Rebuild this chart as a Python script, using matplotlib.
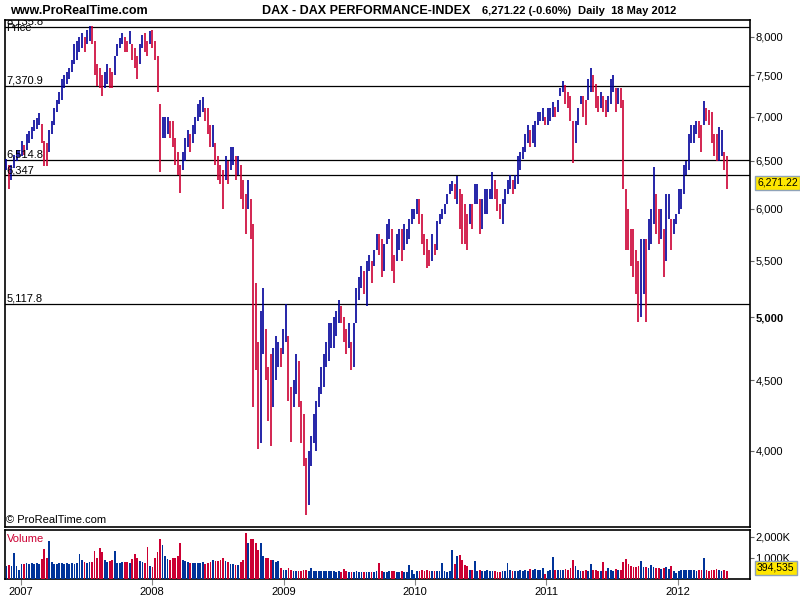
import matplotlib
matplotlib.use('Agg')
import matplotlib.pyplot as plt
from matplotlib.ticker import NullLocator, NullFormatter
import numpy as np
import pandas as pd

plt.rcParams['font.family'] = ['Liberation Sans', 'DejaVu Sans']

# DAX weekly high / low, one value per week, first week starts Mon 20 Nov 2006
wk_high = [
    6520, 6450, 6460, 6560, 6620, 6620,            # 2006 Nov-Dec
    6720, 6680, 6800, 6830, 6880,                  # 2007 Jan
    6960, 6990, 7040, 6920,                        # Feb
    6720, 6700, 6850, 6950,                        # Mar
    7100, 7200, 7300, 7450, 7500,                  # Apr
    7550, 7600, 7700, 7900,                        # May
    7950, 8000, 8050, 8000,                        # Jun
    8100, 8150, 8150, 7950, 7650,                  # Jul
    7600, 7500, 7550, 7650,                        # Aug
    7600, 7550, 7750, 7900,                        # Sep
    7980, 8050, 8000, 7950, 8080,                  # Oct
    7900, 7850, 7750, 7900,                        # Nov
    8020, 8050, 7950, 8080, 8100,                  # Dec
    7950, 7750, 7150, 7000,                        # 2008 Jan
    7000, 7000, 6950, 6950,                        # Feb
    6750, 6600, 6450, 6600, 6750,                  # Mar
    6850, 6800, 6900, 7000,                        # Apr
    7150, 7200, 7230, 7100,                        # May
    7100, 6900, 6900, 6700, 6550,                  # Jun
    6450, 6400, 6550, 6500,                        # Jul
    6650, 6650, 6550, 6550,                        # Aug
    6450, 6300, 6150, 6300, 6100,                  # Sep
    5850, 5300, 4800, 5050,                        # Oct
    5250, 4900, 4600, 4700,                        # Nov
    4750, 4850, 4800, 4750, 4900,                  # Dec
    5110, 4850, 4450, 4500,                        # 2009 Jan
    4700, 4650, 4350, 4250,                        # Feb
    3950, 4000, 4100, 4250, 4350,                  # Mar
    4450, 4600, 4700, 4800,                        # Apr
    4950, 4950, 5000, 5050,                        # May
    5150, 5100, 5000, 4900, 4950,                  # Jun
    4800, 4950, 5250, 5350,                        # Jul
    5450, 5400, 5500, 5550, 5500,                  # Aug
    5600, 5750, 5750, 5700,                        # Sep
    5650, 5850, 5900, 5800,                        # Oct
    5550, 5750, 5800, 5800, 5850,                  # Nov
    5800, 5900, 6000, 6000,                        # Dec
    6100, 6100, 5950, 5750,                        # 2010 Jan
    5700, 5600, 5750, 5650,                        # Feb
    5880, 5950, 6000, 6050, 6150,                  # Mar
    6250, 6280, 6250, 6340,                        # Apr
    6200, 6150, 6050, 5950, 6050,                  # May
    6050, 6250, 6250, 6100,                        # Jun
    6100, 6200, 6200, 6200,                        # Jul
    6380, 6300, 6200, 6050, 6100,                  # Aug
    6200, 6300, 6350, 6300,                        # Sep
    6350, 6550, 6600, 6650,                        # Oct
    6800, 6900, 6850, 6900, 6950,                  # Nov
    7050, 7060, 7100, 7000,                        # Dec
    7100, 7100, 7180, 7120, 7200,                  # 2011 Jan
    7350, 7430, 7380, 7300,                        # Feb
    7250, 6950, 6950, 7100,                        # Mar
    7250, 7250, 7200, 7450,                        # Apr
    7600, 7500, 7400, 7250, 7300,                  # May
    7250, 7200, 7250, 7450,                        # Jun
    7500, 7350, 7350, 7350,                        # Jul
    7200, 6200, 6000, 5800, 5800,                  # Aug
    5600, 5500, 5700, 5700,                        # Sep
    5700, 5900, 6000, 6430, 6150,                  # Oct
    6000, 6000, 5800, 6150,                        # Nov
    6150, 5900, 5900, 5950,                        # Dec
    6200, 6200, 6450, 6500, 6800,                  # 2012 Jan
    6900, 6900, 6950, 6950,                        # Feb
    6900, 7190, 7100, 7080,                        # Mar
    7050, 6800, 6800, 6880, 6850,                  # Apr
    6600, 6550,                                    # May
]
wk_low = [
    6400, 6200, 6300, 6420, 6500, 6540,
    6550, 6560, 6620, 6700, 6740,
    6830, 6860, 6900, 6700,
    6440, 6440, 6600, 6800,
    6900, 7050, 7150, 7200, 7350,
    7400, 7450, 7550, 7650,
    7700, 7800, 7850, 7800,
    7900, 7950, 7900, 7500, 7370,
    7350, 7250, 7350, 7400,
    7350, 7350, 7500, 7750,
    7850, 7900, 7800, 7800, 7900,
    7700, 7600, 7450, 7650,
    7850, 7800, 7750, 7900, 7850,
    7700, 7300, 6380, 6750,
    6750, 6800, 6750, 6650,
    6450, 6350, 6160, 6400, 6500,
    6650, 6600, 6700, 6800,
    6950, 7000, 7050, 6950,
    6800, 6650, 6650, 6450, 6300,
    6250, 6000, 6300, 6250,
    6400, 6450, 6300, 6350,
    6100, 6000, 5750, 6000, 5700,
    4300, 4580, 4010, 4050,
    4700, 4500, 4200, 4030,
    4300, 4500, 4600, 4600, 4700,
    4800, 4350, 4060, 4300,
    4400, 4300, 4050, 3900,
    3590, 3650, 3900, 4050, 4000,
    4300, 4400, 4450, 4600,
    4650, 4750, 4750, 4850,
    4950, 4950, 4800, 4700, 4750,
    4580, 4600, 4950, 5150,
    5250, 5200, 5100, 5400, 5300,
    5450, 5600, 5550, 5350,
    5400, 5650, 5700, 5400,
    5300, 5500, 5600, 5500, 5600,
    5650, 5700, 5850, 5900,
    5950, 5850, 5650, 5550,
    5430, 5450, 5500, 5550,
    5600, 5850, 5900, 5950, 6050,
    6150, 6180, 6100, 6050,
    5800, 5650, 5650, 5600, 5850,
    5800, 6050, 6050, 5750,
    5800, 5950, 5950, 6100,
    6100, 6100, 5980, 5900, 5850,
    6050, 6150, 6200, 6150,
    6200, 6250, 6400, 6520,
    6600, 6700, 6650, 6700, 6650,
    6900, 6950, 6950, 6900,
    6900, 6950, 7000, 7000, 7050,
    7250, 7300, 7150, 7100,
    6950, 6480, 6700, 6900,
    7150, 7000, 6900, 7200,
    7300, 7300, 7100, 7050, 7100,
    7050, 7000, 7050, 7150,
    7300, 7050, 7150, 7100,
    6200, 5600, 5600, 5450, 5350,
    5200, 4960, 5000, 5200,
    4960, 5600, 5650, 5850, 5750,
    5650, 5700, 5350, 5500,
    5900, 5600, 5750, 5850,
    5950, 6000, 6150, 6350, 6400,
    6700, 6700, 6800, 6750,
    6600, 6900, 6950, 6900,
    6700, 6550, 6500, 6500, 6550,
    6400, 6200,
]
# volume in thousands, same weeks
wk_vol = [
    620, 650, 600, 1250, 620, 420,
    700, 720, 760, 700, 740,
    720, 760, 700, 950,
    1450, 1000, 1800, 800,
    700, 720, 760, 740, 700,
    760, 700, 760, 720,
    780, 1200, 900, 820,
    740, 800, 820, 1330, 1000,
    1480, 1300, 900, 820,
    880, 900, 1330, 780,
    760, 800, 820, 820, 780,
    950, 1190, 1000, 880,
    820, 780, 1500, 600, 560,
    1000, 1300, 1900, 1600,
    1100, 950, 900, 1000,
    1000, 1100, 1700, 900, 850,
    800, 760, 780, 760,
    740, 760, 800, 720,
    780, 820, 900, 860, 840,
    900, 1000, 880, 800,
    720, 700, 680, 660,
    800, 900, 2190, 1700, 1900,
    1900, 1730, 1400, 1700,
    1100, 1000, 1000, 900,
    900, 800, 850, 500, 420,
    450, 520, 420, 400,
    380, 400, 380, 420,
    450, 400, 520, 380, 400,
    380, 360, 380, 360,
    380, 360, 400, 340,
    360, 350, 480, 360, 330,
    320, 340, 360, 330,
    340, 320, 330, 320, 340,
    340, 360, 760, 360,
    350, 340, 360, 370,
    380, 330, 350, 360, 320,
    340, 650, 420, 250,
    380, 400, 420, 400,
    420, 380, 360, 380,
    380, 360, 760, 360, 340,
    400, 1380, 700, 1100,
    1140, 900, 650, 600, 450,
    420, 860, 400, 440,
    400, 380, 420, 400,
    380, 360, 340, 320, 360,
    380, 780, 420, 400,
    380, 400, 420, 400,
    420, 400, 480, 440, 460,
    420, 440, 500, 260,
    400, 420, 1050, 450, 420,
    440, 420, 480, 440,
    500, 900, 600, 420,
    400, 380, 420, 360,
    700, 420, 440, 400, 380,
    810, 400, 540, 420,
    400, 460, 420, 440,
    800, 950, 720, 620, 560,
    560, 600, 880, 560,
    560, 500, 670, 580, 520,
    500, 480, 520, 560,
    480, 600, 400, 300,
    380, 420, 440, 420, 440,
    440, 420, 400, 450,
    420, 1000, 420, 400,
    420, 440, 460, 420, 400,
    440, 395,
]

levels = [8135.8, 7370.9, 6514.8, 6347.0, 5117.8]
level_labels = ['8,135.8', '7,370.9', '6,514.8', '6,347', '5,117.8']
price_ticks = [4000, 4500, 5000, 5500, 6000, 6500, 7000, 7500, 8000]
vol_ticks = [1000, 2000]
years = [2007, 2008, 2009, 2010, 2011, 2012]
last_price = '6,271.22'
last_vol = '394,535'

BLUE = '#000099'
RED = '#cc0033'
VBLUE = '#003399'

weeks = pd.date_range('2006-11-20', periods=len(wk_high), freq='7D') + pd.Timedelta(days=2)
hi = np.array(wk_high, dtype=float)
lo = np.array(wk_low, dtype=float)
mid = (hi + lo) / 2
up = np.r_[True, mid[1:] >= mid[:-1]]
pcol = np.where(up, BLUE, RED)
vcol = np.where(up, VBLUE, RED)

W, H = 800, 600
fig = plt.figure(figsize=(8, 6), dpi=100)


def box(x0, y0, x1, y1):
    return [x0 / W, 1 - y1 / H, (x1 - x0) / W, (y1 - y0) / H]


ax = fig.add_axes(box(5, 20, 750, 527))
axv = fig.add_axes(box(5, 530, 750, 579), sharex=ax)

# price panel
ax.vlines(weeks, lo, hi, colors=pcol, lw=1.2, zorder=3)
for lv, lab in zip(levels, level_labels):
    ax.axhline(lv, color='black', lw=0.9, zorder=2)
    ax.text(0.0015, lv, lab, transform=ax.get_yaxis_transform(), fontsize=8,
            va='bottom', ha='left', clip_on=True, zorder=4)
ax.set_yscale('log')
ax.set_ylim(3519, 8231)
ax.yaxis.set_minor_locator(NullLocator())
ax.yaxis.set_minor_formatter(NullFormatter())
ax.yaxis.tick_right()
ax.set_yticks(price_ticks)
ax.set_yticklabels([f'{v:,}' for v in price_ticks])
for t in ax.get_yticklabels():
    if t.get_text() == '5,000':
        t.set_fontweight('bold')
ax.tick_params(axis='y', labelsize=8, length=3, width=0.8, color='#666666', pad=1)
ax.tick_params(axis='x', bottom=False, labelbottom=False)
ax.text(0.0015, 0.984, 'Price', transform=ax.transAxes, fontsize=8, va='center')
ax.text(0.0015, 0.004, '\u00a9 ProRealTime.com', transform=ax.transAxes, fontsize=8, va='bottom')

# volume panel
axv.bar(weeks, wk_vol, width=5.0, color=vcol, zorder=3)
axv.set_ylim(0, 2333)
axv.yaxis.tick_right()
axv.set_yticks(vol_ticks)
axv.set_yticklabels([f'{v:,}K' for v in vol_ticks])
axv.tick_params(axis='y', labelsize=8, length=3, width=0.8, color='#666666', pad=1)
axv.set_xticks([pd.Timestamp(f'{y}-01-01') for y in years])
axv.set_xticklabels([str(y) for y in years])
axv.tick_params(axis='x', labelsize=8, length=4, width=0.8, color='#888888', pad=2)
axv.text(0.003, 0.82, 'Volume', transform=axv.transAxes, fontsize=8, color=RED, va='center')
axv.set_xlim(pd.Timestamp('2006-11-18'), pd.Timestamp('2012-07-20'))

for a in (ax, axv):
    for s in a.spines.values():
        s.set_color('black')
        s.set_linewidth(1.2)

# header texts
fig.text(10 / W, 1 - 11 / H, 'www.ProRealTime.com', fontsize=9, fontweight='bold', va='center')
fig.text(262 / W, 1 - 11 / H, 'DAX - DAX PERFORMANCE-INDEX', fontsize=9, fontweight='bold', va='center')
fig.text(482 / W, 1 - 11 / H, f'{last_price} (-0.60%)', fontsize=8, fontweight='bold', va='center')
fig.text(578 / W, 1 - 11 / H, 'Daily  18 May 2012', fontsize=8, fontweight='bold', va='center')

# last value tags
tag = dict(boxstyle='square,pad=0.22', fc='#ffe600', ec='#8fa3b8', lw=1)
fig.text(757 / W, 1 - 183 / H, last_price, fontsize=7.5, va='center', bbox=tag)
fig.text(757 / W, 1 - 568 / H, last_vol, fontsize=7.5, va='center', bbox=tag)

fig.savefig('out.png', dpi=100)
